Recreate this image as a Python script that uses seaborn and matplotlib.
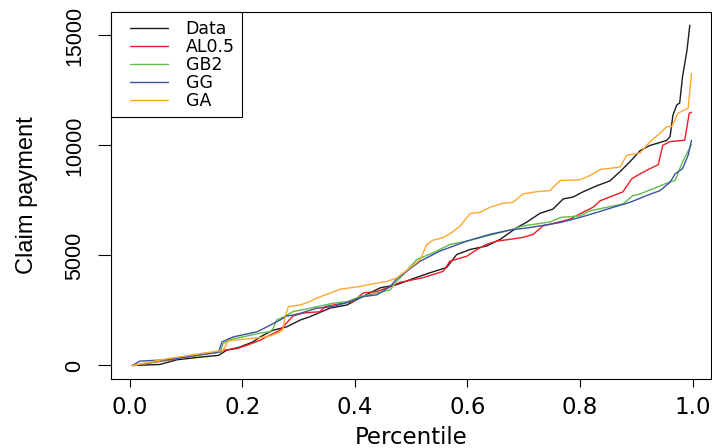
import matplotlib
matplotlib.use("Agg")
import matplotlib.pyplot as plt
import seaborn as sns
import pandas as pd
from matplotlib.lines import Line2D
from matplotlib.legend_handler import HandlerLine2D

# ---- data ----
series_names = ["Data", "AL0.5", "GB2", "GG", "GA"]

data_p = [0.005, 0.054, 0.084, 0.125, 0.158, 0.172, 0.196, 0.219, 0.232, 0.255,
          0.279, 0.303, 0.320, 0.356, 0.386, 0.409, 0.445, 0.474, 0.503, 0.534,
          0.563, 0.581, 0.605, 0.634, 0.658, 0.688, 0.705, 0.729, 0.752, 0.770,
          0.788, 0.805, 0.830, 0.853, 0.871, 0.889, 0.907, 0.924, 0.954, 0.960,
          0.965, 0.972, 0.977, 0.982, 0.990, 0.995]
data_v = [0, 46, 260, 380, 460, 690, 840, 1070, 1300, 1605,
          1757, 2065, 2215, 2610, 2750, 3070, 3530, 3670, 3945, 4220,
          4450, 5045, 5275, 5430, 5730, 6270, 6510, 6920, 7110, 7570,
          7660, 7890, 8170, 8390, 8810, 9270, 9770, 10000, 10230, 10410,
          11380, 11850, 11930, 13110, 14330, 15470]

al_p = [0.005, 0.027, 0.066, 0.119, 0.130, 0.161, 0.166, 0.190, 0.208, 0.232,
        0.249, 0.267, 0.290, 0.308, 0.338, 0.347, 0.379, 0.397, 0.415, 0.439,
        0.463, 0.480, 0.521, 0.557, 0.569, 0.599, 0.617, 0.634, 0.652, 0.676,
        0.699, 0.717, 0.734, 0.747, 0.782, 0.805, 0.823, 0.836, 0.853, 0.876,
        0.892, 0.907, 0.924, 0.939, 0.947, 0.960, 0.986, 0.994, 0.998]
al_v = [0, 80, 230, 460, 535, 610, 690, 765, 917, 1150,
        1376, 1605, 2248, 2385, 2445, 2675, 2840, 2900, 3300, 3360,
        3590, 3775, 3990, 4280, 4740, 4970, 5275, 5505, 5655, 5735,
        5825, 5963, 6345, 6420, 6650, 6960, 7190, 7490, 7660, 7890,
        8490, 8715, 8945, 9130, 10010, 10180, 10240, 11470, 11510]

gb_p = [0.005, 0.072, 0.161, 0.166, 0.178, 0.201, 0.232, 0.249, 0.255, 0.261,
        0.272, 0.290, 0.320, 0.361, 0.386, 0.409, 0.439, 0.463, 0.474, 0.480,
        0.510, 0.539, 0.569, 0.599, 0.634, 0.670, 0.699, 0.747, 0.765, 0.800,
        0.818, 0.847, 0.876, 0.894, 0.907, 0.936, 0.960, 0.969, 0.982, 0.998]
gb_v = [0, 275, 610, 995, 1180, 1300, 1470, 1530, 1680, 2065,
        2190, 2445, 2600, 2830, 2900, 3130, 3290, 3440, 3820, 3975,
        4815, 5120, 5505, 5655, 5885, 6115, 6345, 6525, 6730, 6800,
        7030, 7190, 7340, 7720, 7800, 8100, 8350, 8410, 9250, 10050]

gg_p = [0.005, 0.018, 0.066, 0.119, 0.158, 0.164, 0.184, 0.226, 0.244, 0.267,
        0.279, 0.290, 0.303, 0.332, 0.361, 0.391, 0.415, 0.439, 0.463, 0.474,
        0.516, 0.551, 0.599, 0.640, 0.676, 0.711, 0.747, 0.765, 0.800, 0.830,
        0.859, 0.889, 0.918, 0.942, 0.960, 0.969, 0.982, 0.992, 0.998]
gg_v = [0, 200, 260, 460, 610, 1070, 1300, 1530, 1757, 2065,
        2248, 2295, 2370, 2600, 2675, 2900, 3130, 3210, 3590, 3930,
        4740, 5200, 5655, 5963, 6160, 6270, 6420, 6500, 6730, 6960,
        7190, 7420, 7720, 7950, 8330, 8715, 8945, 9555, 10240]

ga_p = [0.005, 0.066, 0.125, 0.166, 0.175, 0.196, 0.244, 0.261, 0.272, 0.276,
        0.282, 0.303, 0.320, 0.332, 0.356, 0.374, 0.409, 0.432, 0.457, 0.474,
        0.498, 0.516, 0.528, 0.539, 0.557, 0.572, 0.587, 0.605, 0.622, 0.640,
        0.663, 0.681, 0.699, 0.723, 0.747, 0.752, 0.765, 0.800, 0.818, 0.836,
        0.871, 0.883, 0.907, 0.924, 0.942, 0.954, 0.963, 0.974, 0.992, 0.998]
ga_v = [0, 305, 535, 690, 1115, 1180, 1300, 1453, 1605, 2215,
        2675, 2750, 2900, 3060, 3290, 3470, 3590, 3715, 3820, 3975,
        4435, 4815, 5505, 5700, 5810, 6040, 6345, 6910, 6960, 7190,
        7370, 7420, 7800, 7900, 7950, 8100, 8410, 8440, 8640, 8910,
        9020, 9555, 9665, 10170, 10550, 10860, 10860, 11470, 11700, 13270]

x_ticks = [0.0, 0.2, 0.4, 0.6, 0.8, 1.0]
x_tick_labels = ["0.0", "0.2", "0.4", "0.6", "0.8", "1.0"]
y_ticks = [0, 5000, 10000, 15000]
y_tick_labels = ["0", "5000", "10000", "15000"]

colors = ["#1c1c1c", "#ee1c24", "#62bd48", "#3a53a4", "#fda92f"]

# ---- build long table ----
frames = []
for name, p, v in zip(series_names,
                      [data_p, al_p, gb_p, gg_p, ga_p],
                      [data_v, al_v, gb_v, gg_v, ga_v]):
    frames.append(pd.DataFrame({"Percentile": p, "Claim": v, "Model": name}))
df = pd.concat(frames, ignore_index=True)

sns.set_theme(style="white", rc={
    "text.color": "black", "axes.labelcolor": "black",
    "xtick.color": "black", "ytick.color": "black",
    "axes.edgecolor": "black", "axes.linewidth": 0.8,
})
plt.rcParams["font.family"] = ["DejaVu Sans"]

fig = plt.figure(figsize=(7.12, 4.48), dpi=100)
ax = fig.add_axes([110.7 / 712, (448 - 379) / 448, 600 / 712, 367 / 448])

sns.lineplot(data=df, x="Percentile", y="Claim", hue="Model",
             hue_order=series_names, palette=colors, estimator=None,
             linewidth=1.0, legend=False, ax=ax)

ax.set_xlim(-0.0336, 1.0321)
ax.set_ylim(-614, 16068)

ax.set_xticks(x_ticks)
ax.set_xticklabels(x_tick_labels, fontsize=16.5)
ax.set_yticks(y_ticks)
ax.set_yticklabels(y_tick_labels, rotation=90, va="center",
                   fontsize=15.5, family="Liberation Sans")

ax.tick_params(axis="x", bottom=True, length=5.8, width=0.8, pad=6.7,
               direction="out")
ax.tick_params(axis="y", left=True, length=9.4, width=0.8, pad=9,
               direction="out")

ax.set_xlabel("Percentile", fontsize=16.5, labelpad=4.5)
ax.set_ylabel("Claim payment", fontsize=17, family="Liberation Sans",
              labelpad=19)

for s in ax.spines.values():
    s.set_visible(True)
    s.set_color("black")
    s.set_linewidth(0.8)

handles = [Line2D([], [], color=c, linewidth=1.0) for c in colors]
leg = ax.legend(handles, series_names, loc="upper left",
                bbox_to_anchor=(0, 1), borderaxespad=0, frameon=True,
                fancybox=False, edgecolor="black", framealpha=1,
                fontsize=12.5, handlelength=3.5, handletextpad=0.38,
                borderpad=0.44, labelspacing=0.0,
                handler_map={Line2D: HandlerLine2D(numpoints=2,
                                                   marker_pad=0.66)})
leg.get_frame().set_linewidth(0.8)

fig.savefig("out.png", dpi=100)
